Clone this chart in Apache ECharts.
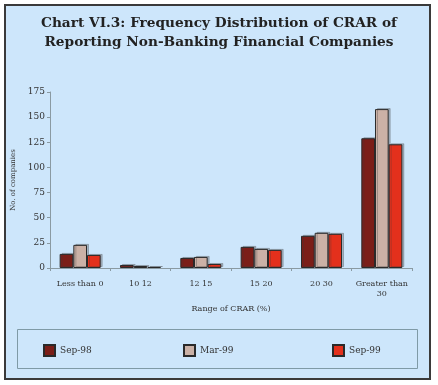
<!DOCTYPE html>
<html><head><meta charset="utf-8">
<script src="https://cdn.jsdelivr.net/npm/echarts@6/dist/echarts.min.js"></script>
<style>html,body{margin:0;padding:0;background:#fff}#c{width:438px;height:385px}</style>
</head><body><div id="c"></div>
<script>
const categories = ['Less than 0', '10 12', '12 15', '15 20', '20 30', 'Greater than\n30'];
const seriesNames = ['Sep-98', 'Mar-99', 'Sep-99'];
const sep98 = [14, 3, 10, 21, 32, 129];
const mar99 = [23, 2, 11, 19, 35, 158];
const sep99 = [13, 1, 4, 18, 34, 123];
const yTicks = [0, 25, 50, 75, 100, 125, 150, 175];

const colors = ['#7b1e18', '#cbb1a6', '#e3301c'];
const serif = 'DejaVu Serif';
const chart = echarts.init(document.getElementById('c'), null, {renderer: 'canvas'});
const dataArr = [sep98, mar99, sep99];
chart.setOption({
  backgroundColor: '#ffffff',
  animation: false,
  graphic: [
    {type: 'rect', shape: {x: 5, y: 5, width: 425, height: 374}, style: {fill: '#cde6fb', stroke: '#3a3a3a', lineWidth: 2}, z: -10},
    {type: 'rect', shape: {x: 17.5, y: 329.5, width: 400, height: 39}, style: {fill: 'none', stroke: '#7f9aa6', lineWidth: 1}, z: -5}
  ],
  title: {
    text: 'Chart VI.3: Frequency Distribution of CRAR of\nReporting Non-Banking Financial Companies',
    left: 'center', top: 9,
    textStyle: {fontFamily: serif, fontWeight: 'bold', fontSize: 13.7, color: '#222', lineHeight: 19}
  },
  legend: seriesNames.map((n, i) => ({
    data: [n], left: [38, 178, 327][i], top: 339,
    itemWidth: 11, itemHeight: 11, itemGap: 0,
    textStyle: {fontFamily: serif, fontSize: 9, color: '#333', padding: [0, 0, 0, 0]},
    icon: 'rect'
  })),
  grid: {left: 50, right: 26, top: 92, bottom: 117},
  xAxis: {
    type: 'category', data: categories,
    name: 'Range of CRAR (%)', nameLocation: 'middle', nameGap: 37,
    nameTextStyle: {fontFamily: serif, fontSize: 8, color: '#333'},
    axisLine: {lineStyle: {color: '#8a9aa2'}},
    axisTick: {show: true, length: 3, lineStyle: {color: '#8a9aa2'}},
    axisLabel: {fontFamily: serif, fontSize: 8, color: '#333', margin: 11, lineHeight: 10, interval: 0}
  },
  yAxis: {
    type: 'value', min: 0, max: 175, interval: 25,
    name: 'No. of companies', nameLocation: 'middle', nameGap: 24,
    nameTextStyle: {fontFamily: serif, fontSize: 7, color: '#333'},
    axisLine: {show: true, lineStyle: {color: '#8a9aa2'}},
    axisTick: {show: true, length: 3, lineStyle: {color: '#8a9aa2'}},
    splitLine: {show: false},
    axisLabel: {fontFamily: serif, fontSize: 9, color: '#333', margin: 5,
      formatter: v => yTicks.includes(v) ? String(v) : ''}
  },
  series: seriesNames.map((n, i) => ({
    name: n, type: 'bar', data: dataArr[i],
    barGap: '0%', barCategoryGap: '32%',
    itemStyle: {color: colors[i], borderColor: '#2a2a2a', borderWidth: 1,
      shadowColor: 'rgba(60,60,60,0.3)', shadowOffsetX: 2, shadowOffsetY: -1, shadowBlur: 0}
  }))
});
</script></body></html>
